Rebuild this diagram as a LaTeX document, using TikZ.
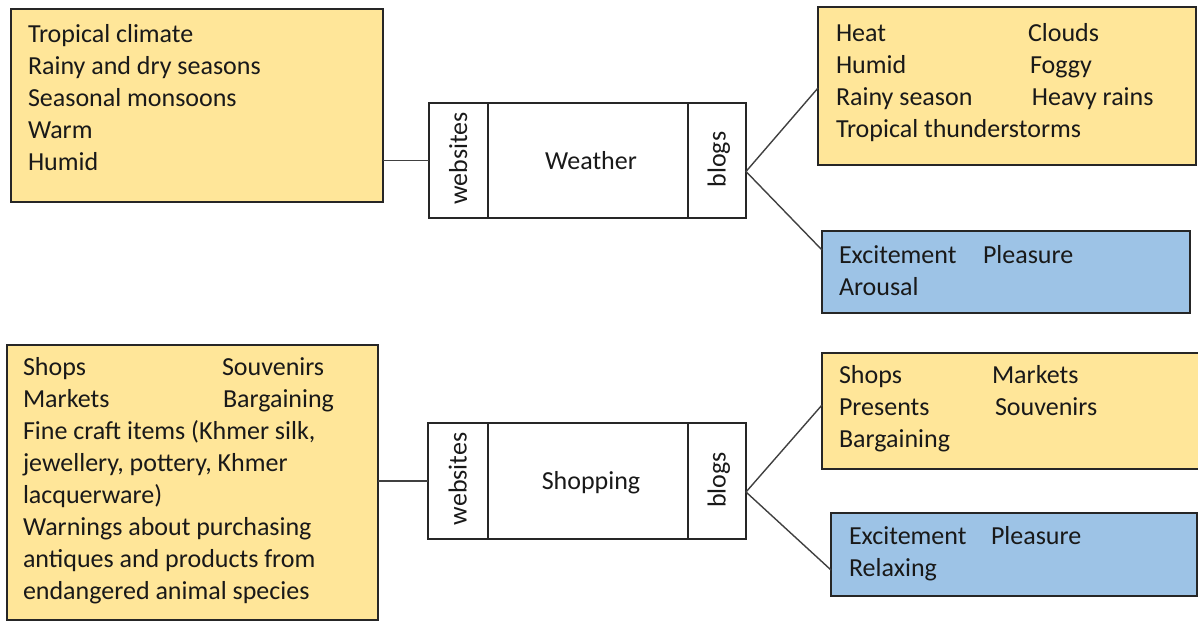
\documentclass[tikz,border=0pt]{standalone}
\usepackage{fontspec}
\setmainfont{Carlito}
\usetikzlibrary{positioning}
\definecolor{noteyellow}{HTML}{FFE699}
\definecolor{noteblue}{HTML}{9DC3E6}
\newcommand{\colbox}[2]{\makebox[#1][l]{#2}}

\begin{document}
\begin{tikzpicture}[x=1pt,y=-1pt]
	\tikzstyle{every node}=[inner sep=0pt, outer sep=0pt, font=\fontsize{26}{32}\selectfont, text=black!90]
	\tikzstyle{note}=[draw=black!85, line width=1.4pt, anchor=north west]
	\tikzstyle{notetext}=[anchor=north west, align=left]
	\tikzstyle{sect}=[draw=black!85, line width=1.4pt, anchor=north west]
	\tikzstyle{midlabel}=[text height=17pt, text depth=0pt, xshift=3pt]
	\tikzstyle{sidelabel}=[rotate=90, text height=17pt, text depth=0pt]
	\tikzstyle{link}=[draw=black!75, line width=1.4pt]
	
	\useasboundingbox (0,0) rectangle (1198,621);
	
	%% weather
	\node [note, fill=noteyellow, minimum width=372pt, minimum height=193pt] (climA) at (11,9) {};
	\node [notetext] (climAtxt) at (28,19.6) {\strut Tropical climate\\Rainy and dry seasons\\Seasonal monsoons\\Warm\\Humid};
	\node [sect, minimum width=59pt, minimum height=115pt] (wWeb) at (429,103) {};
	\node [sect, minimum width=200pt, minimum height=115pt, right=0pt of wWeb] (wMid) {};
	\node [sect, minimum width=58pt, minimum height=115pt, right=0pt of wMid] (wBlog) {};
	\node [sidelabel, xshift=2pt] (wWebTxt) at (wWeb) {websites};
	\node [midlabel] (wMidTxt) at (wMid) {Weather};
	\node [sidelabel, xshift=1pt] (wBlogTxt) at (wBlog) {blogs};
	\node [note, fill=noteyellow, minimum width=378pt, minimum height=158pt] (wYel) at (818,7) {};
	\node [notetext] (wYeltxt) at (836,18.6) {\strut\colbox{192pt}{Heat}Clouds\\\colbox{194pt}{Humid}Foggy\\\colbox{196pt}{Rainy season}Heavy rains\\Tropical thunderstorms};
	\node [note, fill=noteblue, minimum width=368pt, minimum height=82pt] (wBlue) at (822,231) {};
	\node [notetext] (wBluetxt) at (839,240.6) {\strut\colbox{144pt}{Excitement}Pleasure\\Arousal};
	\coordinate (wApex) at ([yshift=-11pt]wBlog.east);
	\draw [link] (wWeb.west) -- (wWeb.west -| climA.east);
	\draw [link] ([yshift=-81pt]wYel.north west) -- (wApex) -- ([yshift=-19pt]wBlue.north west);
	
	%% shopping
	\node [note, fill=noteyellow, minimum width=371pt, minimum height=275pt] (shopA) at (7,345) {};
	\node [notetext] (shopAtxt) at (23,352.6) {\strut\colbox{199pt}{Shops}Souvenirs\\\colbox{200pt}{Markets}Bargaining\\Fine craft items (Khmer silk,\\jewellery, pottery, Khmer\\lacquerware)\\Warnings about purchasing\\antiques and products from\\endangered animal species};
	\node [sect, minimum width=60pt, minimum height=116pt] (sWeb) at (428,423) {};
	\node [sect, minimum width=200pt, minimum height=116pt, right=0pt of sWeb] (sMid) {};
	\node [sect, minimum width=58pt, minimum height=116pt, right=0pt of sMid] (sBlog) {};
	\node [sidelabel, xshift=2pt] (sWebTxt) at (sWeb) {websites};
	\node [midlabel] (sMidTxt) at (sMid) {Shopping};
	\node [sidelabel, xshift=1pt] (sBlogTxt) at (sBlog) {blogs};
	\node [note, fill=noteyellow, minimum width=383pt, minimum height=116pt] (sYel) at (822,353) {};
	\node [notetext] (sYeltxt) at (839,360.6) {\strut\colbox{153pt}{Shops}Markets\\\colbox{156pt}{Presents}Souvenirs\\Bargaining};
	\node [note, fill=noteblue, minimum width=366pt, minimum height=83pt] (sBlue) at (831,513) {};
	\node [notetext] (sBluetxt) at (849,521.6) {\strut\colbox{142pt}{Excitement}Pleasure\\Relaxing};
	\coordinate (sApex) at ([yshift=-11pt]sBlog.east);
	\draw [link] (sWeb.west) -- (sWeb.west -| shopA.east);
	\draw [link] ([yshift=-52pt]sYel.north west) -- (sApex) -- ([yshift=-57pt]sBlue.north west);

\end{tikzpicture}
\end{document}
